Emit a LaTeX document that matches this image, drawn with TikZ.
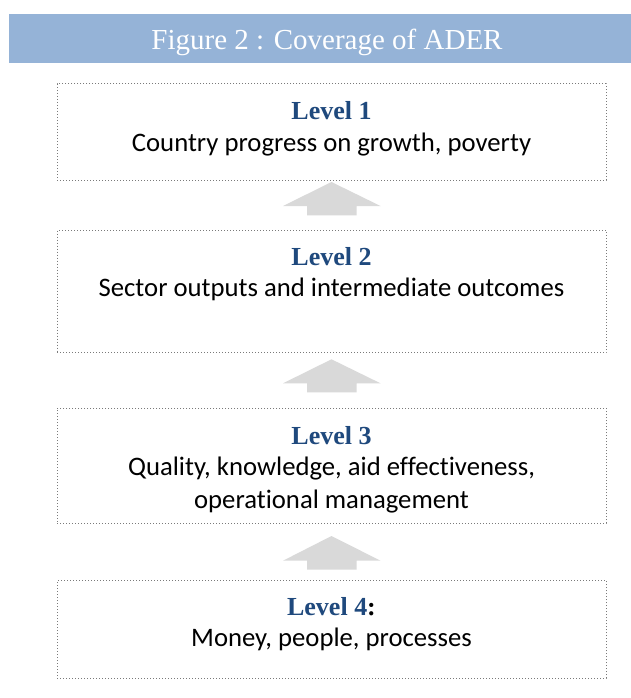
\documentclass[tikz,border=0pt]{standalone}
\usepackage{fontspec}
\setmainfont{Liberation Serif}
\newfontfamily\bodyfont[Ligatures=NoCommon]{Carlito}
\usetikzlibrary{calc}
\definecolor{bannerblue}{HTML}{95B3D7}
\definecolor{levelblue}{HTML}{1F497D}
\definecolor{arrowgray}{HTML}{D9D9D9}
\definecolor{framegray}{HTML}{7A7A7A}
\tikzset{
  levelbox/.style={draw=framegray, line width=1pt, dash pattern=on 1pt off 2pt,
    rectangle, inner sep=0pt},
  leveltitle/.style={anchor=base, inner sep=0pt, text=levelblue,
    font=\fontsize{26}{28}\selectfont\bfseries},
  leveltext/.style={anchor=base, inner sep=0pt, text=black,
    font=\bodyfont\fontsize{26.7}{32}\selectfont},
  uparrow/.style={fill=arrowgray, draw=none}
}
% block arrow pointing up: #1 centre x, #2 tip y, #3 shoulder y, #4 bottom y
\newcommand{\blockarrow}[4]{%
  \fill[uparrow] (#1,#2) -- (#1+49,#3) -- (#1+25,#3) -- (#1+25,#4)
    -- (#1-24.5,#4) -- (#1-24.5,#3) -- (#1-48.5,#3) -- cycle;}
\begin{document}
\begin{tikzpicture}[x=1pt, y=-1pt]
  \useasboundingbox (0,0) rectangle (631,698);
  \fill[white] (0,0) rectangle (631,698);

  % heading banner
  \fill[bannerblue] (9,14) rectangle (631,63);
  \node[anchor=base, inner sep=0pt, text=white, font=\fontsize{29}{30}\selectfont]
    (heading) at (327,50) {Figure 2 : Coverage of ADER};

  % level frames
  \node[levelbox, minimum width=549pt, minimum height=96pt] (box1) at (331.5,132) {};
  \node[levelbox, minimum width=549pt, minimum height=122.5pt] (box2) at (331.5,291.25) {};
  \node[levelbox, minimum width=549pt, minimum height=115pt] (box3) at (331.5,465.5) {};
  \node[levelbox, minimum width=549pt, minimum height=97.5pt] (box4) at (331.5,629.25) {};

  % level labels
  \node[leveltitle] (t1) at (331.5,120) {Level 1};
  \node[leveltext] (d1) at (331.5,151) {Country progress on growth, poverty};

  \node[leveltitle] (t2) at (331.5,265) {Level 2};
  \node[leveltext] (d2) at (331.5,296) {Sector outputs and intermediate outcomes};

  \node[leveltitle] (t3) at (331.5,444) {Level 3};
  \node[leveltext] (d3a) at (331.5,475) {Quality, knowledge, aid effectiveness,};
  \node[leveltext] (d3b) at (331.5,508) {operational management};

  \node[leveltitle] (t4) at (331.5,615) {Level 4\textcolor{black}{:}};
  \node[leveltext] (d4) at (331.5,646) {Money, people, processes};

  % upward block arrows between the frames
  \blockarrow{331.5}{182}{206}{215.3}
  \blockarrow{331.5}{359.3}{383.3}{392.3}
  \blockarrow{331.5}{536}{560.7}{569.5}
\end{tikzpicture}
\end{document}
